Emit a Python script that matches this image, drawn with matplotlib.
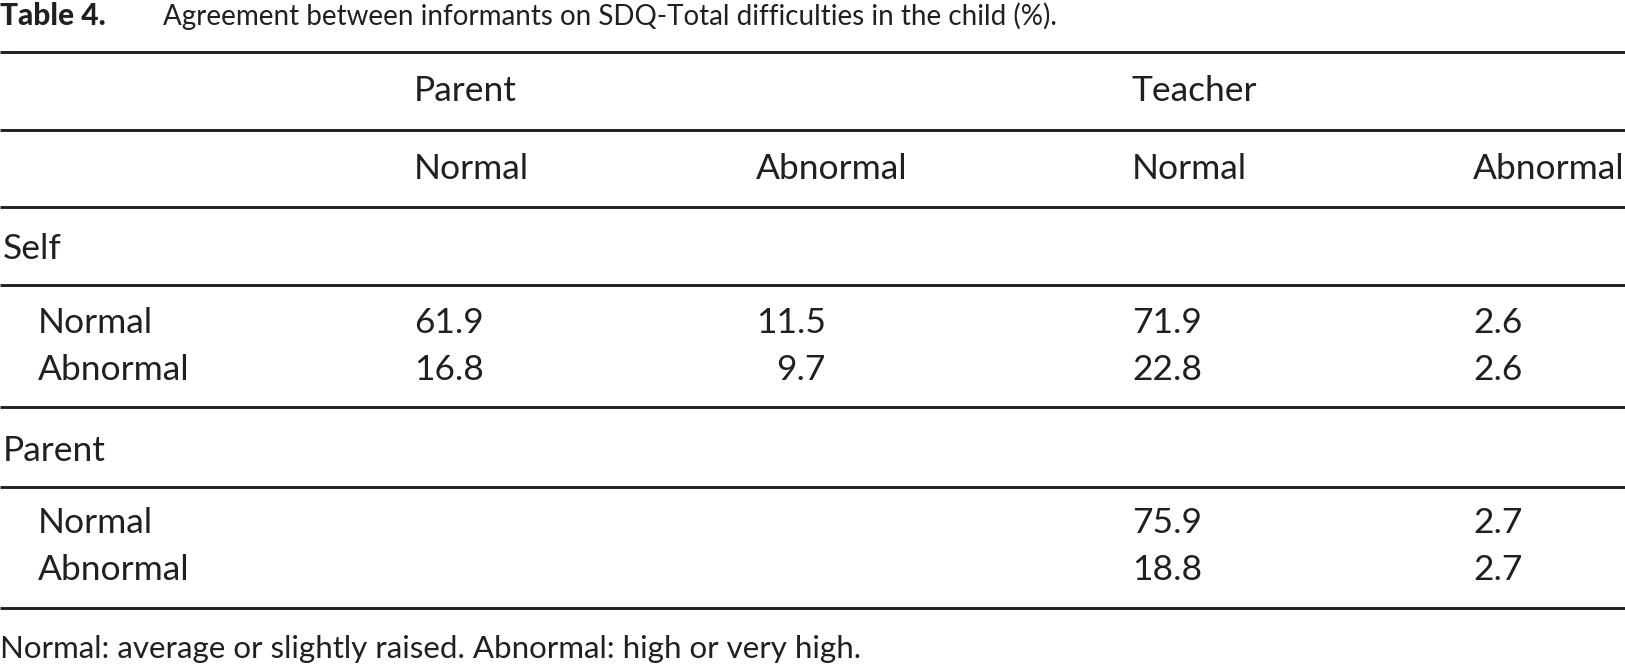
import matplotlib
matplotlib.use("Agg")
import matplotlib.pyplot as plt

# table content
title_bold = "Table 4."
title_rest = "Agreement between informants on SDQ-Total difficulties in the child (%)."
footnote = "Normal: average or slightly raised. Abnormal: high or very high."

col_groups = ["Parent", "Teacher"]
levels = ["Normal", "Abnormal"]
row_groups = ["Self", "Parent"]

self_parent = [[61.9, 11.5], [16.8, 9.7]]
self_teacher = [[71.9, 2.6], [22.8, 2.6]]
parent_teacher = [[75.9, 2.7], [18.8, 2.7]]

W, H = 1625, 665
ink = "#231f20"
font = "Lato"
fs = 25.5
fs_title = 20
fs_note = 22.5

fig = plt.figure(figsize=(W / 100, H / 100), dpi=100)
ax = fig.add_axes([0, 0, 1, 1])
ax.set_xlim(0, W)
ax.set_ylim(H, 0)
ax.axis("off")


def txt(x, y, s, ha="left", weight="normal", size=fs):
    return ax.text(x, y, s, ha=ha, va="center", fontsize=size, family=font,
                   color=ink, weight=weight)


# title
txt(0, 16, title_bold, weight="black", size=fs_title + 1.5)
txt(163, 16, title_rest, size=fs_title)

# horizontal rules
for y in [52, 130, 207, 285, 407, 487, 608]:
    ax.hlines(y, 0, W, color=ink, lw=2.1)

# column headers
col_left = [414, 756, 1132, 1473]
txt(col_left[0], 91, col_groups[0])
txt(col_left[2], 91, col_groups[1])
for i in range(4):
    txt(col_left[i], 169, levels[i % 2])

# row blocks
blocks = [
    (row_groups[0], 249, [323, 370], [self_parent, self_teacher]),
    (row_groups[1], 451, [523, 570], [None, parent_teacher]),
]
cells = {i: [] for i in range(4)}
for name, gy, rys, tables in blocks:
    txt(3, gy, name)
    for r, ry in enumerate(rys):
        txt(38, ry, levels[r])
        for t, tab in enumerate(tables):
            if tab is None:
                continue
            for c in range(2):
                col = t * 2 + c
                cells[col].append(txt(col_left[col], ry, f"{tab[r][c]:.1f}"))

# right-align the numbers within each column (widest one starts at column left)
renderer = fig.canvas.get_renderer()
inv = ax.transData.inverted()
for col, items in cells.items():
    widths = []
    for t in items:
        bb = t.get_window_extent(renderer)
        x0 = inv.transform((bb.x0, 0))[0]
        x1 = inv.transform((bb.x1, 0))[0]
        widths.append(x1 - x0)
    wmax = max(widths)
    for t, w in zip(items, widths):
        t.set_x(col_left[col] + wmax - w)

txt(0, 649, footnote, size=fs_note)

fig.savefig("out.png", dpi=100)
